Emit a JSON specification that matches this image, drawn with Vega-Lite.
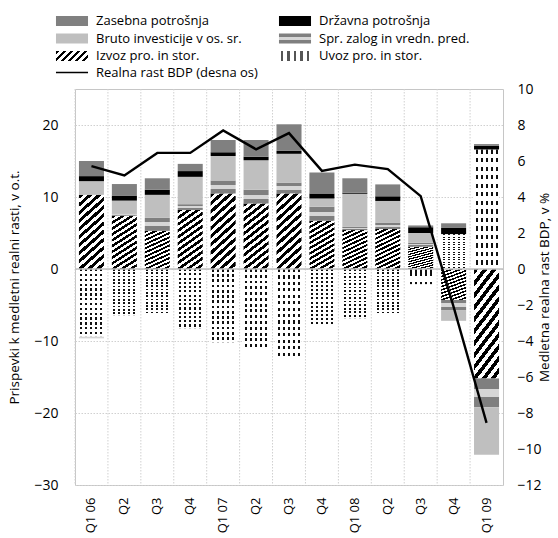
{
  "$schema": "https://vega.github.io/schema/vega-lite/v6.json",
  "width": 428,
  "height": 396,
  "autosize": "none",
  "padding": {"left": 75, "top": 89, "right": 55, "bottom": 53},
  "config": {
    "font": "Open Sans",
    "view": {"stroke": "#c6c6c6", "strokeWidth": 1},
    "axis": {"labelColor": "#000000", "titleColor": "#000000", "labelFont": "Open Sans", "titleFont": "Open Sans", "titleFontWeight": "normal", "labelOverlap": false, "labelSeparation": 0},
    "legend": {"labelFont": "Open Sans", "labelColor": "#000000"}
  },
  "params": [
    {"name": "gS", "expr": "{gradient: 'linear', x1: 0, y1: 0, x2: 0, y2: 1, stops: [{offset: 0, color: '#7f7f7f'}, {offset: 0.35, color: '#7f7f7f'}, {offset: 0.35, color: '#d6d6d6'}, {offset: 0.65, color: '#d6d6d6'}, {offset: 0.65, color: '#7f7f7f'}, {offset: 1, color: '#7f7f7f'}]}"},
    {"name": "gI", "expr": "{gradient: 'linear', x1: 0, y1: 0, x2: 1.2, y2: 0.375, stops: [{offset: 0, color: '#000'}, {offset: 0.0833, color: '#000'}, {offset: 0.0833, color: '#fff'}, {offset: 0.1667, color: '#fff'}, {offset: 0.1667, color: '#000'}, {offset: 0.25, color: '#000'}, {offset: 0.25, color: '#fff'}, {offset: 0.3333, color: '#fff'}, {offset: 0.3333, color: '#000'}, {offset: 0.4167, color: '#000'}, {offset: 0.4167, color: '#fff'}, {offset: 0.5, color: '#fff'}, {offset: 0.5, color: '#000'}, {offset: 0.5833, color: '#000'}, {offset: 0.5833, color: '#fff'}, {offset: 0.6667, color: '#fff'}, {offset: 0.6667, color: '#000'}, {offset: 0.75, color: '#000'}, {offset: 0.75, color: '#fff'}, {offset: 0.8333, color: '#fff'}, {offset: 0.8333, color: '#000'}, {offset: 0.9167, color: '#000'}, {offset: 0.9167, color: '#fff'}, {offset: 1, color: '#fff'}]}"},
    {"name": "gU", "expr": "{gradient: 'linear', x1: 0, y1: 0, x2: 1, y2: 0, stops: [{offset: 0, color: '#fff'}, {offset: 0.06, color: '#fff'}, {offset: 0.06, color: '#555'}, {offset: 0.14, color: '#555'}, {offset: 0.14, color: '#fff'}, {offset: 0.26, color: '#fff'}, {offset: 0.26, color: '#555'}, {offset: 0.34, color: '#555'}, {offset: 0.34, color: '#fff'}, {offset: 0.46, color: '#fff'}, {offset: 0.46, color: '#555'}, {offset: 0.54, color: '#555'}, {offset: 0.54, color: '#fff'}, {offset: 0.66, color: '#fff'}, {offset: 0.66, color: '#555'}, {offset: 0.74, color: '#555'}, {offset: 0.74, color: '#fff'}, {offset: 0.86, color: '#fff'}, {offset: 0.86, color: '#555'}, {offset: 0.94, color: '#555'}, {offset: 0.94, color: '#fff'}, {offset: 1, color: '#fff'}]}"}
  ],
  "datasets": {
    "bars": [
      {"q": "Q1 06", "s": "Izvoz pro. in stor.", "v": 10.3},
      {"q": "Q1 06", "s": "Uvoz pro. in stor.", "v": -9.4},
      {"q": "Q1 06", "s": "Spr. zalog in vredn. pred.", "v": -0.2},
      {"q": "Q1 06", "s": "Bruto investicije v os. sr.", "v": 1.9},
      {"q": "Q1 06", "s": "Državna potrošnja", "v": 0.7},
      {"q": "Q1 06", "s": "Zasebna potrošnja", "v": 2.1},
      {"q": "Q2 06", "s": "Izvoz pro. in stor.", "v": 7.4},
      {"q": "Q2 06", "s": "Uvoz pro. in stor.", "v": -6.5},
      {"q": "Q2 06", "s": "Spr. zalog in vredn. pred.", "v": 0.3},
      {"q": "Q2 06", "s": "Bruto investicije v os. sr.", "v": 1.8},
      {"q": "Q2 06", "s": "Državna potrošnja", "v": 0.7},
      {"q": "Q2 06", "s": "Zasebna potrošnja", "v": 1.6},
      {"q": "Q3 06", "s": "Izvoz pro. in stor.", "v": 5.3},
      {"q": "Q3 06", "s": "Uvoz pro. in stor.", "v": -6.4},
      {"q": "Q3 06", "s": "Spr. zalog in vredn. pred.", "v": 1.8},
      {"q": "Q3 06", "s": "Bruto investicije v os. sr.", "v": 3.2},
      {"q": "Q3 06", "s": "Državna potrošnja", "v": 0.7},
      {"q": "Q3 06", "s": "Zasebna potrošnja", "v": 1.6},
      {"q": "Q4 06", "s": "Izvoz pro. in stor.", "v": 8.2},
      {"q": "Q4 06", "s": "Uvoz pro. in stor.", "v": -8.3},
      {"q": "Q4 06", "s": "Spr. zalog in vredn. pred.", "v": 0.8},
      {"q": "Q4 06", "s": "Bruto investicije v os. sr.", "v": 3.8},
      {"q": "Q4 06", "s": "Državna potrošnja", "v": 0.8},
      {"q": "Q4 06", "s": "Zasebna potrošnja", "v": 1.0},
      {"q": "Q1 07", "s": "Izvoz pro. in stor.", "v": 10.5},
      {"q": "Q1 07", "s": "Uvoz pro. in stor.", "v": -10.2},
      {"q": "Q1 07", "s": "Spr. zalog in vredn. pred.", "v": 1.8},
      {"q": "Q1 07", "s": "Bruto investicije v os. sr.", "v": 3.4},
      {"q": "Q1 07", "s": "Državna potrošnja", "v": 0.5},
      {"q": "Q1 07", "s": "Zasebna potrošnja", "v": 1.7},
      {"q": "Q2 07", "s": "Izvoz pro. in stor.", "v": 9.1},
      {"q": "Q2 07", "s": "Uvoz pro. in stor.", "v": -11.25},
      {"q": "Q2 07", "s": "Spr. zalog in vredn. pred.", "v": 1.9},
      {"q": "Q2 07", "s": "Bruto investicije v os. sr.", "v": 4.1},
      {"q": "Q2 07", "s": "Državna potrošnja", "v": 0.5},
      {"q": "Q2 07", "s": "Zasebna potrošnja", "v": 2.3},
      {"q": "Q3 07", "s": "Izvoz pro. in stor.", "v": 10.5},
      {"q": "Q3 07", "s": "Uvoz pro. in stor.", "v": -12.5},
      {"q": "Q3 07", "s": "Spr. zalog in vredn. pred.", "v": 1.5},
      {"q": "Q3 07", "s": "Bruto investicije v os. sr.", "v": 4.0},
      {"q": "Q3 07", "s": "Državna potrošnja", "v": 0.4},
      {"q": "Q3 07", "s": "Zasebna potrošnja", "v": 3.7},
      {"q": "Q4 07", "s": "Izvoz pro. in stor.", "v": 6.7},
      {"q": "Q4 07", "s": "Uvoz pro. in stor.", "v": -7.9},
      {"q": "Q4 07", "s": "Spr. zalog in vredn. pred.", "v": 1.95},
      {"q": "Q4 07", "s": "Bruto investicije v os. sr.", "v": 1.15},
      {"q": "Q4 07", "s": "Državna potrošnja", "v": 0.7},
      {"q": "Q4 07", "s": "Zasebna potrošnja", "v": 2.9},
      {"q": "Q1 08", "s": "Izvoz pro. in stor.", "v": 5.4},
      {"q": "Q1 08", "s": "Uvoz pro. in stor.", "v": -6.85},
      {"q": "Q1 08", "s": "Spr. zalog in vredn. pred.", "v": 0.45},
      {"q": "Q1 08", "s": "Bruto investicije v os. sr.", "v": 4.6},
      {"q": "Q1 08", "s": "Državna potrošnja", "v": 0.15},
      {"q": "Q1 08", "s": "Zasebna potrošnja", "v": 2.0},
      {"q": "Q2 08", "s": "Izvoz pro. in stor.", "v": 5.55},
      {"q": "Q2 08", "s": "Uvoz pro. in stor.", "v": -6.4},
      {"q": "Q2 08", "s": "Spr. zalog in vredn. pred.", "v": 0.9},
      {"q": "Q2 08", "s": "Bruto investicije v os. sr.", "v": 3.0},
      {"q": "Q2 08", "s": "Državna potrošnja", "v": 0.65},
      {"q": "Q2 08", "s": "Zasebna potrošnja", "v": 1.65},
      {"q": "Q3 08", "s": "Izvoz pro. in stor.", "v": 3.1},
      {"q": "Q3 08", "s": "Uvoz pro. in stor.", "v": -2.1},
      {"q": "Q3 08", "s": "Spr. zalog in vredn. pred.", "v": 0.55},
      {"q": "Q3 08", "s": "Bruto investicije v os. sr.", "v": 1.35},
      {"q": "Q3 08", "s": "Državna potrošnja", "v": 0.8},
      {"q": "Q3 08", "s": "Zasebna potrošnja", "v": 0.25},
      {"q": "Q4 08", "s": "Izvoz pro. in stor.", "v": -4.3},
      {"q": "Q4 08", "s": "Uvoz pro. in stor.", "v": 4.85},
      {"q": "Q4 08", "s": "Spr. zalog in vredn. pred.", "v": -1.4},
      {"q": "Q4 08", "s": "Bruto investicije v os. sr.", "v": -1.5},
      {"q": "Q4 08", "s": "Državna potrošnja", "v": 0.85},
      {"q": "Q4 08", "s": "Zasebna potrošnja", "v": 0.65},
      {"q": "Q1 09", "s": "Izvoz pro. in stor.", "v": -15.2},
      {"q": "Q1 09", "s": "Uvoz pro. in stor.", "v": 16.6},
      {"q": "Q1 09", "s": "Spr. zalog in vredn. pred.", "v": -4.0},
      {"q": "Q1 09", "s": "Bruto investicije v os. sr.", "v": -6.6},
      {"q": "Q1 09", "s": "Državna potrošnja", "v": 0.5},
      {"q": "Q1 09", "s": "Zasebna potrošnja", "v": 0.25}
    ],
    "gdp": [
      {"q": "Q1 06", "g": 5.72},
      {"q": "Q2 06", "g": 5.2},
      {"q": "Q3 06", "g": 6.45},
      {"q": "Q4 06", "g": 6.45},
      {"q": "Q1 07", "g": 7.7},
      {"q": "Q2 07", "g": 6.65},
      {"q": "Q3 07", "g": 7.55},
      {"q": "Q4 07", "g": 5.45},
      {"q": "Q1 08", "g": 5.8},
      {"q": "Q2 08", "g": 5.55},
      {"q": "Q3 08", "g": 4.05},
      {"q": "Q4 08", "g": -2.1},
      {"q": "Q1 09", "g": -8.55}
    ]
  },
  "layer": [
    {
      "layer": [
        {
          "data": {"name": "gdp"},
          "mark": {"type": "rule", "stroke": "#d0d0d0", "strokeWidth": 1, "strokeDash": [1.5, 1.5]},
          "encoding": {
            "x": {"field": "q", "type": "nominal", "bandPosition": 0}
          }
        },
        {
          "data": {"name": "bars"},
          "transform": [
            {"calculate": "indexof(['Izvoz pro. in stor.','Uvoz pro. in stor.','Spr. zalog in vredn. pred.','Bruto investicije v os. sr.','Državna potrošnja','Zasebna potrošnja'], datum.s)", "as": "o"}
          ],
          "mark": {"type": "bar", "width": {"band": 0.76}},
          "encoding": {
            "x": {
              "field": "q", "type": "nominal",
              "scale": {"domain": ["Q1 06","Q2 06","Q3 06","Q4 06","Q1 07","Q2 07","Q3 07","Q4 07","Q1 08","Q2 08","Q3 08","Q4 08","Q1 09"], "paddingInner": 0, "paddingOuter": 0},
              "axis": {"title": null, "labelAngle": -90, "labelFontSize": 13, "labelPadding": 12, "domain": false, "ticks": false, "grid": false,
                       "labelExpr": "slice(datum.label,0,2) == 'Q1' ? datum.label : slice(datum.label,0,2)"}
            },
            "y": {
              "field": "v", "type": "quantitative", "stack": "zero",
              "scale": {"domain": [-30, 25], "nice": false, "zero": false},
              "axis": {"title": "Prispevki k medletni realni rasti, v o.t.", "titleFontSize": 13.5, "titlePadding": 12,
                       "values": [-30,-25,-20,-15,-10,-5,0,5,10,15,20,25], "tickCount": 11, "labelFontSize": 14, "labelPadding": 17, "labelOverlap": false,
                       "domain": false, "ticks": false, "grid": true, "gridColor": "#d0d0d0", "gridDash": [1.5, 1.5]}
            },
            "color": {
              "condition": [
                {"test": "datum.s === 'Izvoz pro. in stor.'", "value": {"gradient": "linear", "x1": 0, "y1": 0, "x2": 0.36, "y2": 1.2, "stops": [
                    {"offset": 0, "color": "#000"}, {"offset": 0.0417, "color": "#000"}, {"offset": 0.0417, "color": "#fff"}, {"offset": 0.0833, "color": "#fff"},
                    {"offset": 0.0833, "color": "#000"}, {"offset": 0.125, "color": "#000"}, {"offset": 0.125, "color": "#fff"}, {"offset": 0.1667, "color": "#fff"},
                    {"offset": 0.1667, "color": "#000"}, {"offset": 0.2083, "color": "#000"}, {"offset": 0.2083, "color": "#fff"}, {"offset": 0.25, "color": "#fff"},
                    {"offset": 0.25, "color": "#000"}, {"offset": 0.2917, "color": "#000"}, {"offset": 0.2917, "color": "#fff"}, {"offset": 0.3333, "color": "#fff"},
                    {"offset": 0.3333, "color": "#000"}, {"offset": 0.375, "color": "#000"}, {"offset": 0.375, "color": "#fff"}, {"offset": 0.4167, "color": "#fff"},
                    {"offset": 0.4167, "color": "#000"}, {"offset": 0.4583, "color": "#000"}, {"offset": 0.4583, "color": "#fff"}, {"offset": 0.5, "color": "#fff"},
                    {"offset": 0.5, "color": "#000"}, {"offset": 0.5417, "color": "#000"}, {"offset": 0.5417, "color": "#fff"}, {"offset": 0.5833, "color": "#fff"},
                    {"offset": 0.5833, "color": "#000"}, {"offset": 0.625, "color": "#000"}, {"offset": 0.625, "color": "#fff"}, {"offset": 0.6667, "color": "#fff"},
                    {"offset": 0.6667, "color": "#000"}, {"offset": 0.7083, "color": "#000"}, {"offset": 0.7083, "color": "#fff"}, {"offset": 0.75, "color": "#fff"},
                    {"offset": 0.75, "color": "#000"}, {"offset": 0.7917, "color": "#000"}, {"offset": 0.7917, "color": "#fff"}, {"offset": 0.8333, "color": "#fff"},
                    {"offset": 0.8333, "color": "#000"}, {"offset": 0.875, "color": "#000"}, {"offset": 0.875, "color": "#fff"}, {"offset": 0.9167, "color": "#fff"},
                    {"offset": 0.9167, "color": "#000"}, {"offset": 0.9583, "color": "#000"}, {"offset": 0.9583, "color": "#fff"}, {"offset": 1, "color": "#fff"}]}},
                {"test": "datum.s === 'Uvoz pro. in stor.'", "value": {"gradient": "linear", "x1": 0, "y1": 0, "x2": 1, "y2": 0, "stops": [
                    {"offset": 0, "color": "#fff"}, {"offset": 0.06, "color": "#fff"}, {"offset": 0.06, "color": "#111"}, {"offset": 0.14, "color": "#111"},
                    {"offset": 0.14, "color": "#fff"}, {"offset": 0.26, "color": "#fff"}, {"offset": 0.26, "color": "#111"}, {"offset": 0.34, "color": "#111"},
                    {"offset": 0.34, "color": "#fff"}, {"offset": 0.46, "color": "#fff"}, {"offset": 0.46, "color": "#111"}, {"offset": 0.54, "color": "#111"},
                    {"offset": 0.54, "color": "#fff"}, {"offset": 0.66, "color": "#fff"}, {"offset": 0.66, "color": "#111"}, {"offset": 0.74, "color": "#111"},
                    {"offset": 0.74, "color": "#fff"}, {"offset": 0.86, "color": "#fff"}, {"offset": 0.86, "color": "#111"}, {"offset": 0.94, "color": "#111"},
                    {"offset": 0.94, "color": "#fff"}, {"offset": 1, "color": "#fff"}]}},
                {"test": "datum.s === 'Spr. zalog in vredn. pred.'", "value": {"gradient": "linear", "x1": 0, "y1": 0, "x2": 0, "y2": 1, "stops": [
                    {"offset": 0, "color": "#7f7f7f"}, {"offset": 0.35, "color": "#7f7f7f"},
                    {"offset": 0.35, "color": "#d6d6d6"}, {"offset": 0.65, "color": "#d6d6d6"},
                    {"offset": 0.65, "color": "#7f7f7f"}, {"offset": 1, "color": "#7f7f7f"}]}}
              ],
              "field": "s", "type": "nominal",
              "scale": {
                "domain": ["Zasebna potrošnja", "Državna potrošnja", "Bruto investicije v os. sr.", "Spr. zalog in vredn. pred.", "Izvoz pro. in stor.", "Uvoz pro. in stor."],
                "range": ["#808080", "#000000", "#bfbfbf", "#999999", "#444444", "#bbbbbb"]
              },
              "legend": null
            },
            "order": {"field": "o", "type": "quantitative", "sort": "ascending"}
          }
        },
        {
          "data": {"name": "bars"},
          "transform": [
            {"calculate": "indexof(['Izvoz pro. in stor.','Uvoz pro. in stor.','Spr. zalog in vredn. pred.','Bruto investicije v os. sr.','Državna potrošnja','Zasebna potrošnja'], datum.s)", "as": "o"}
          ],
          "mark": {"type": "bar", "width": {"band": 0.76}},
          "encoding": {
            "x": {"field": "q", "type": "nominal"},
            "y": {"field": "v", "type": "quantitative", "stack": "zero"},
            "detail": {"field": "s", "type": "nominal"},
            "fill": {
              "condition": {"test": "datum.s === 'Uvoz pro. in stor.'", "value": {"gradient": "linear", "x1": 0, "y1": 0, "x2": 0, "y2": 1, "stops": [
                {"offset": 0, "color": "rgba(255,255,255,0)"}, {"offset": 0.0357, "color": "rgba(255,255,255,0)"}, {"offset": 0.0357, "color": "#fff"}, {"offset": 0.0714, "color": "#fff"},
                {"offset": 0.0714, "color": "rgba(255,255,255,0)"}, {"offset": 0.1071, "color": "rgba(255,255,255,0)"}, {"offset": 0.1071, "color": "#fff"}, {"offset": 0.1429, "color": "#fff"},
                {"offset": 0.1429, "color": "rgba(255,255,255,0)"}, {"offset": 0.1786, "color": "rgba(255,255,255,0)"}, {"offset": 0.1786, "color": "#fff"}, {"offset": 0.2143, "color": "#fff"},
                {"offset": 0.2143, "color": "rgba(255,255,255,0)"}, {"offset": 0.25, "color": "rgba(255,255,255,0)"}, {"offset": 0.25, "color": "#fff"}, {"offset": 0.2857, "color": "#fff"},
                {"offset": 0.2857, "color": "rgba(255,255,255,0)"}, {"offset": 0.3214, "color": "rgba(255,255,255,0)"}, {"offset": 0.3214, "color": "#fff"}, {"offset": 0.3571, "color": "#fff"},
                {"offset": 0.3571, "color": "rgba(255,255,255,0)"}, {"offset": 0.3929, "color": "rgba(255,255,255,0)"}, {"offset": 0.3929, "color": "#fff"}, {"offset": 0.4286, "color": "#fff"},
                {"offset": 0.4286, "color": "rgba(255,255,255,0)"}, {"offset": 0.4643, "color": "rgba(255,255,255,0)"}, {"offset": 0.4643, "color": "#fff"}, {"offset": 0.5, "color": "#fff"},
                {"offset": 0.5, "color": "rgba(255,255,255,0)"}, {"offset": 0.5357, "color": "rgba(255,255,255,0)"}, {"offset": 0.5357, "color": "#fff"}, {"offset": 0.5714, "color": "#fff"},
                {"offset": 0.5714, "color": "rgba(255,255,255,0)"}, {"offset": 0.6071, "color": "rgba(255,255,255,0)"}, {"offset": 0.6071, "color": "#fff"}, {"offset": 0.6429, "color": "#fff"},
                {"offset": 0.6429, "color": "rgba(255,255,255,0)"}, {"offset": 0.6786, "color": "rgba(255,255,255,0)"}, {"offset": 0.6786, "color": "#fff"}, {"offset": 0.7143, "color": "#fff"},
                {"offset": 0.7143, "color": "rgba(255,255,255,0)"}, {"offset": 0.75, "color": "rgba(255,255,255,0)"}, {"offset": 0.75, "color": "#fff"}, {"offset": 0.7857, "color": "#fff"},
                {"offset": 0.7857, "color": "rgba(255,255,255,0)"}, {"offset": 0.8214, "color": "rgba(255,255,255,0)"}, {"offset": 0.8214, "color": "#fff"}, {"offset": 0.8571, "color": "#fff"},
                {"offset": 0.8571, "color": "rgba(255,255,255,0)"}, {"offset": 0.8929, "color": "rgba(255,255,255,0)"}, {"offset": 0.8929, "color": "#fff"}, {"offset": 0.9286, "color": "#fff"},
                {"offset": 0.9286, "color": "rgba(255,255,255,0)"}, {"offset": 0.9643, "color": "rgba(255,255,255,0)"}, {"offset": 0.9643, "color": "#fff"}, {"offset": 1, "color": "#fff"}]}},
              "value": "transparent"
            },
            "order": {"field": "o", "type": "quantitative", "sort": "ascending"}
          }
        },
        {
          "data": {"name": "bars"},
          "mark": {"type": "point", "filled": true, "opacity": 0},
          "encoding": {
            "x": {"field": "q", "type": "nominal"},
            "color": {"field": "s", "type": "nominal", "legend": null},
            "shape": {
              "field": "s", "type": "nominal",
              "scale": {
                "domain": ["Zasebna potrošnja", "Državna potrošnja", "Bruto investicije v os. sr.", "Spr. zalog in vredn. pred.", "Izvoz pro. in stor.", "Uvoz pro. in stor.", "Realna rast BDP (desna os)"],
                "range": ["M-2.67,-0.83H2.67V0.83H-2.67Z", "M-2.67,-0.83H2.67V0.83H-2.67Z", "M-2.67,-0.83H2.67V0.83H-2.67Z", "M-2.67,-0.83H2.67V0.83H-2.67Z", "M-2.67,-0.83H2.67V0.83H-2.67Z", "M-2.67,-0.83H2.67V0.83H-2.67Z", "M-2.67,0H2.67"]
              },
              "legend": {
                "title": null, "orient": "none", "legendX": -10, "legendY": -75, "columns": 2, "direction": "horizontal",
                "symbolSize": 144, "symbolOpacity": 1, "symbolStrokeWidth": 1.5,
                "symbolFillColor": {"expr": "datum.value === 'Realna rast BDP (desna os)' ? 'transparent' : datum.value === 'Izvoz pro. in stor.' ? gI : datum.value === 'Uvoz pro. in stor.' ? gU : datum.value === 'Spr. zalog in vredn. pred.' ? gS : datum.value === 'Zasebna potrošnja' ? '#808080' : datum.value === 'Državna potrošnja' ? '#000000' : '#bfbfbf'"},
                "symbolStrokeColor": {"expr": "datum.value === 'Realna rast BDP (desna os)' ? '#000000' : 'transparent'"},
                "labelFontSize": 13, "labelOffset": 17, "rowPadding": 1.5, "columnPadding": 17, "padding": 0, "labelLimit": 300
              }
            }
          }
        },
        {
          "data": {"values": [{}]},
          "mark": {"type": "rule", "stroke": "#bfbfbf", "strokeWidth": 1.5},
          "encoding": {"y": {"datum": 0, "type": "quantitative"}}
        }
      ]
    },
    {
      "data": {"name": "gdp"},
      "mark": {"type": "line", "strokeWidth": 2.4, "color": "#000000"},
      "encoding": {
        "x": {"field": "q", "type": "nominal"},
        "y": {
          "field": "g", "type": "quantitative",
          "scale": {"domain": [-12, 10], "nice": false, "zero": false},
          "axis": {"orient": "right", "title": "Medletna realna rast BDP, v %", "titleFontSize": 13.5, "titleAngle": -90, "titlePadding": 10,
                   "values": [-12,-10,-8,-6,-4,-2,0,2,4,6,8,10], "labelFontSize": 14, "labelPadding": 14,
                   "domain": false, "ticks": false, "grid": false}
        }
      }
    }
  ],
  "resolve": {"scale": {"y": "independent"}}
}
